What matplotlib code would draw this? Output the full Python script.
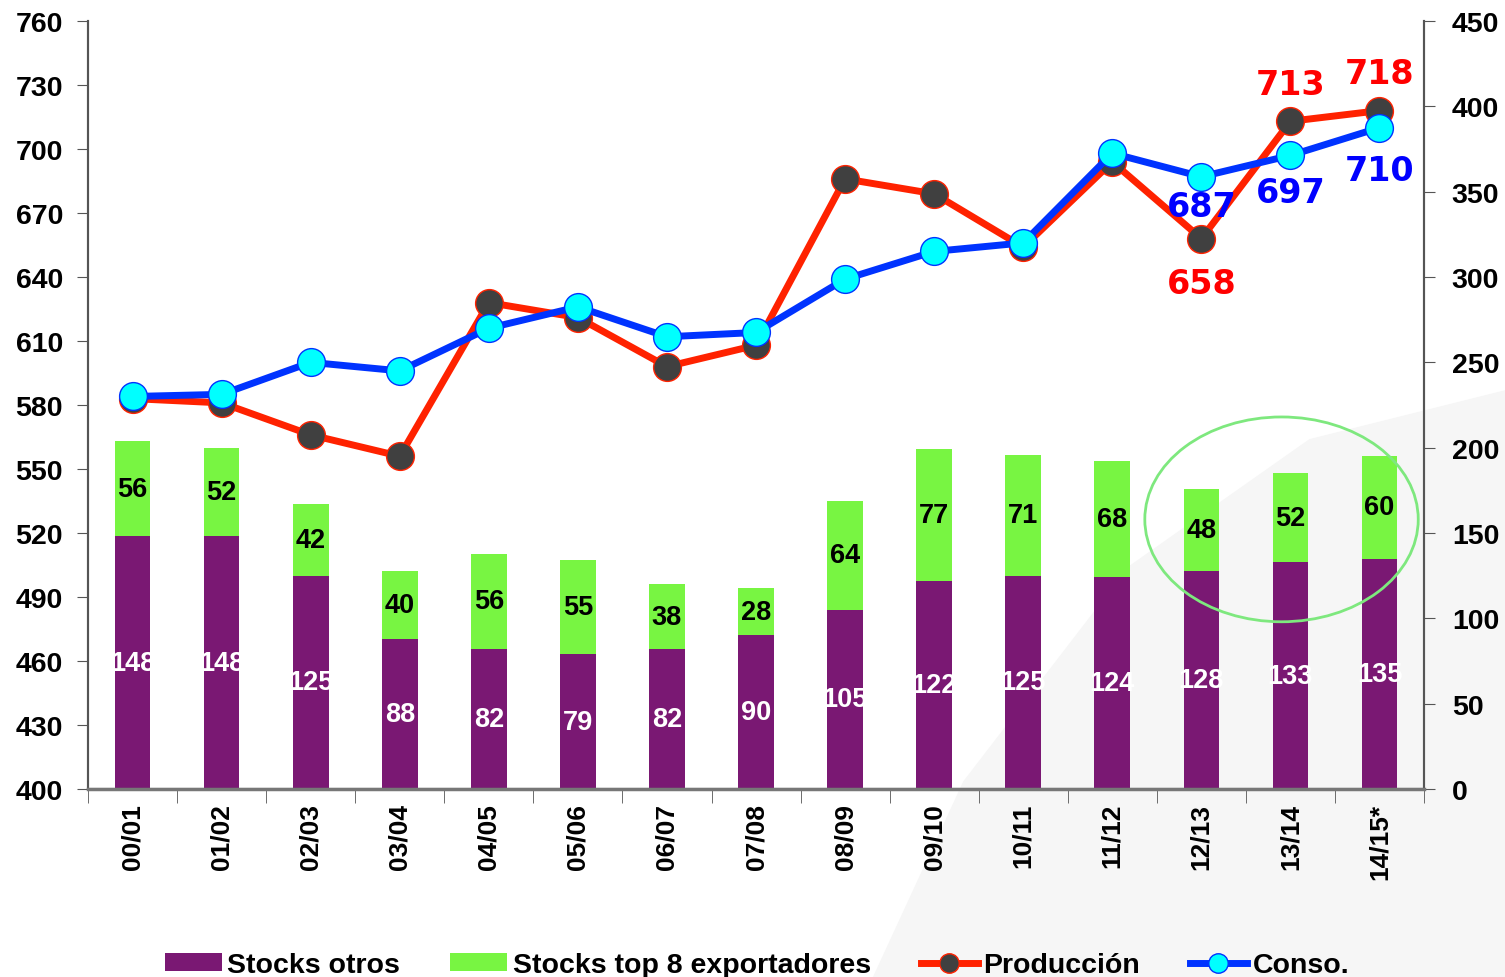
import matplotlib
matplotlib.use("Agg")
import matplotlib.pyplot as plt
from matplotlib.patches import Patch, Ellipse, Polygon
from matplotlib.lines import Line2D

campanas = ["00/01", "01/02", "02/03", "03/04", "04/05", "05/06", "06/07", "07/08",
            "08/09", "09/10", "10/11", "11/12", "12/13", "13/14", "14/15*"]
stocks_otros = [148, 148, 125, 88, 82, 79, 82, 90, 105, 122, 125, 124, 128, 133, 135]
stocks_top8 = [56, 52, 42, 40, 56, 55, 38, 28, 64, 77, 71, 68, 48, 52, 60]
produccion = [583, 581, 566, 556, 628, 621, 598, 608, 686, 679, 654, 694, 658, 713, 718]
consumo = [584, 585, 600, 596, 616, 626, 612, 614, 639, 652, 656, 698, 687, 697, 710]

# labelled points: (index, offset y in pixels)
prod_labels = {12: -45, 13: 37, 14: 37}
cons_labels = {12: -30, 13: -37, 14: -43}

plt.rcParams["font.family"] = ["Liberation Sans", "DejaVu Sans"]
plt.rcParams["font.weight"] = "bold"

PURPLE = "#7a1873"
GREEN = "#78f542"
RED = "#ff2200"
BLUE = "#0033ff"

fig = plt.figure(figsize=(15.05, 9.78), dpi=100)

# faint watermark in the bottom right corner
fig.patches.append(Polygon([[0.58, 0.0], [0.64, 0.2], [0.75, 0.42], [0.87, 0.55], [1.0, 0.6],
                            [1.0, 0.0]], closed=True, transform=fig.transFigure,
                           facecolor="#f6f6f6", edgecolor="none", zorder=-10))

ax = fig.add_axes([0.0585, 0.1922, 0.8877, 0.7853])
ax2 = ax.twinx()
ax.set_zorder(ax2.get_zorder() + 1)
ax.patch.set_visible(False)
ax2.patch.set_visible(False)

x = list(range(len(campanas)))

# stacked bars on the right axis
ax2.bar(x, stocks_otros, width=0.4, color=PURPLE, zorder=2)
ax2.bar(x, stocks_top8, width=0.4, bottom=stocks_otros, color=GREEN, zorder=2)
for i in x:
    ax2.text(i, stocks_otros[i] / 2, str(stocks_otros[i]), ha="center", va="center",
             color="white", fontsize=19.5, fontweight="bold", zorder=3)
    ax2.text(i, stocks_otros[i] + stocks_top8[i] / 2, str(stocks_top8[i]), ha="center",
             va="center", color="black", fontsize=19.5, fontweight="bold", zorder=3)

ax2.add_patch(Ellipse((12.9, 158), 3.07, 120, facecolor="none", edgecolor="#7ee87e",
                      linewidth=2, zorder=4))

# lines on the left axis
ax.plot(x, produccion, color=RED, linewidth=5, marker="o", markersize=20,
        markerfacecolor="#404040", markeredgecolor=RED, markeredgewidth=1, zorder=3)
ax.plot(x, consumo, color=BLUE, linewidth=5, marker="o", markersize=20,
        markerfacecolor="#00ffff", markeredgecolor=BLUE, markeredgewidth=1, zorder=4)

for i, dy in prod_labels.items():
    ax.annotate(str(produccion[i]), (i, produccion[i]), xytext=(0, dy),
                textcoords="offset pixels", ha="center", va="center", color="#ff0000",
                fontsize=24, fontweight="bold", family="DejaVu Sans", zorder=5)
for i, dy in cons_labels.items():
    ax.annotate(str(consumo[i]), (i, consumo[i]), xytext=(0, dy),
                textcoords="offset pixels", ha="center", va="center", color="#0000ff",
                fontsize=24, fontweight="bold", family="DejaVu Sans", zorder=5)

ax.set_xlim(-0.5, len(campanas) - 0.5)
ax.set_ylim(400, 760)
ax.set_yticks(range(400, 761, 30))
ax2.set_ylim(0, 450)
ax2.set_yticks(range(0, 451, 50))

ax.set_xticks(x)
ax.set_xticklabels(campanas, rotation=90, fontsize=19, fontweight="bold")
ax.set_xticks([i + 0.5 for i in range(-1, len(campanas))], minor=True)
ax.tick_params(axis="x", which="major", length=0, pad=10)
ax.tick_params(axis="x", which="minor", length=10, color="#555555", direction="out")
ax.tick_params(axis="y", labelsize=20.5, length=8, color="#555555", pad=10)
ax2.tick_params(axis="y", labelsize=20.5, length=8, color="#555555", pad=12)
for lab in ax.get_yticklabels() + ax2.get_yticklabels():
    lab.set_fontweight("bold")

for a in (ax, ax2):
    a.spines["top"].set_visible(False)
    for s in ("left", "right", "bottom"):
        a.spines[s].set_color("#555555")
        a.spines[s].set_linewidth(1.5)
ax.spines["bottom"].set_color("#777777")
ax.spines["bottom"].set_linewidth(2.5)

handles = [
    Patch(facecolor=PURPLE, edgecolor="none"),
    Patch(facecolor=GREEN, edgecolor="none"),
    Line2D([], [], color=RED, linewidth=5, marker="o", markersize=14,
           markerfacecolor="#404040", markeredgecolor=RED),
    Line2D([], [], color=BLUE, linewidth=5, marker="o", markersize=14,
           markerfacecolor="#00ffff", markeredgecolor=BLUE),
]
labels = ["Stocks otros", "Stocks top 8 exportadores", "Producción", "Conso."]
fig.legend(handles, labels, loc="center", bbox_to_anchor=(0.503, 1 - 966 / 978), ncol=4,
           frameon=False, prop={"size": 20.5, "weight": "bold"}, handlelength=2.0,
           handleheight=0.55, handletextpad=0.2, columnspacing=1.75)

fig.savefig("out.png", dpi=100)
